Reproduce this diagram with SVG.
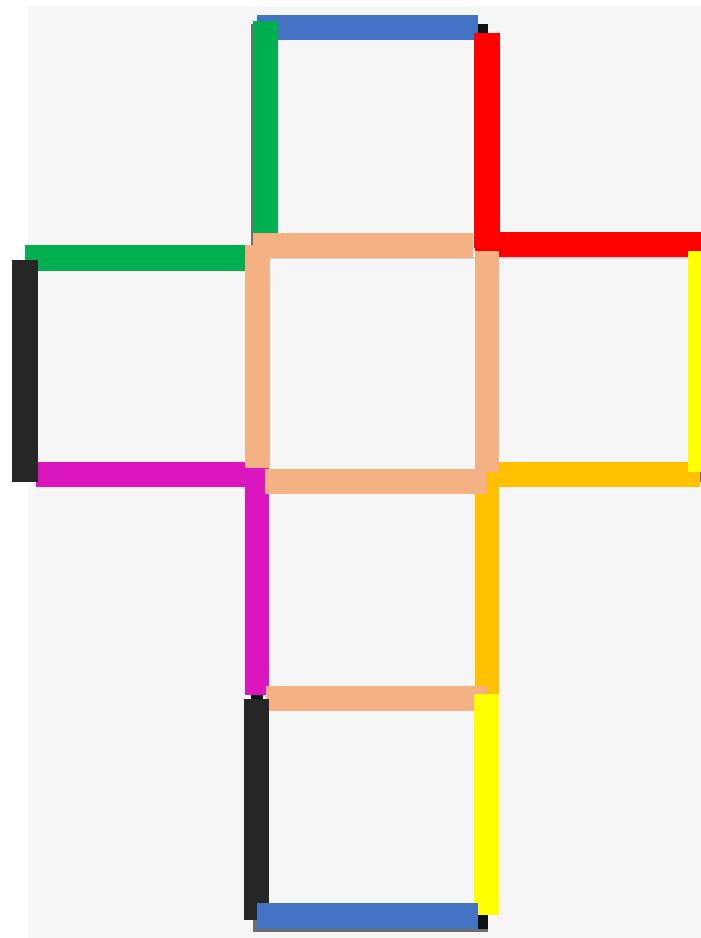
<svg xmlns="http://www.w3.org/2000/svg" width="701" height="938" viewBox="0 0 701 938">
<style>
.bg{fill:#f6f6f6}
.blue{fill:#4472c4}
.green{fill:#00b050}
.red{fill:#ff0000}
.peach{fill:#f4b183}
.black{fill:#262626}
.mag{fill:#dc16be}
.orange{fill:#ffc000}
.yellow{fill:#ffff00}
.shade{fill:#6e6e6e}
.dark{fill:#111111}
.faint{fill:#d4d4d4}
</style>
<rect x="0" y="0" width="701" height="938" fill="#ffffff"/>
<rect class="bg" x="28" y="6" width="673" height="932"/>
<g id="shadows">
<rect class="faint" x="270" y="257" width="418" height="2"/>
<rect class="shade" x="251" y="24" width="3" height="222"/>
<rect class="dark" x="478" y="24" width="10" height="10"/>
<rect class="dark" x="257" y="468" width="5" height="14"/>
<rect class="shade" x="262" y="473" width="5" height="9"/>
<rect class="shade" x="699" y="472" width="2" height="10"/>
<rect class="dark" x="251" y="694" width="12" height="5"/>
<rect class="shade" x="253" y="905" width="235" height="27"/>
<rect class="dark" x="478" y="905" width="10" height="24"/>
</g>
<g id="top-face">
<rect class="blue" x="257" y="15" width="221" height="25"/>
<rect class="green" x="253" y="21" width="25" height="213"/>
<rect class="red" x="474" y="33" width="26" height="215"/>
</g>
<g id="left-face">
<rect class="green" x="25" y="245" width="221" height="26"/>
<rect class="mag" x="36" y="462" width="210" height="25"/>
<rect class="black" x="12" y="260" width="26" height="222"/>
</g>
<g id="right-face">
<rect class="red" x="475" y="232" width="226" height="25"/>
<rect class="orange" x="475" y="462" width="225" height="25"/>
<rect class="yellow" x="688" y="251" width="13" height="221"/>
</g>
<g id="lower-faces">
<rect class="mag" x="245" y="462" width="24" height="233"/>
<rect class="orange" x="475" y="462" width="24" height="232"/>
</g>
<g id="front-face">
<rect class="peach" x="253" y="233" width="220" height="25"/>
<rect class="peach" x="245" y="245" width="25" height="223"/>
<rect class="peach" x="475" y="251" width="24" height="221"/>
<rect class="peach" x="265" y="469" width="222" height="25"/>
</g>
<g id="bottom-face">
<rect class="peach" x="266" y="686" width="221" height="25"/>
<rect class="black" x="244" y="699" width="25" height="221"/>
<rect class="yellow" x="474" y="694" width="25" height="221"/>
<rect class="blue" x="257" y="903" width="221" height="26"/>
</g>
</svg>
